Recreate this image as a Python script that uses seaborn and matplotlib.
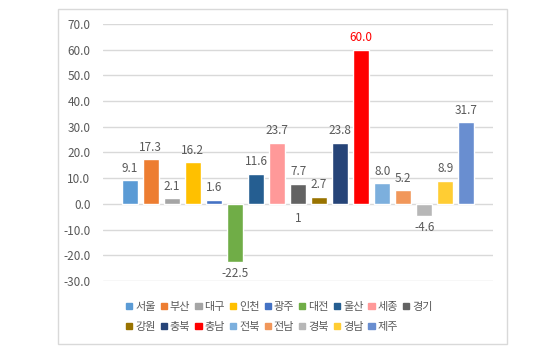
import matplotlib
matplotlib.use("Agg")
import matplotlib.pyplot as plt
import matplotlib.patches as mpatches
import seaborn as sns
import pandas as pd

regions = ["서울", "부산", "대구", "인천", "광주", "대전", "울산", "세종", "경기",
           "강원", "충북", "충남", "전북", "전남", "경북", "경남", "제주"]
values = [9.1, 17.3, 2.1, 16.2, 1.6, -22.5, 11.6, 23.7, 7.7,
          2.7, 23.8, 60.0, 8.0, 5.2, -4.6, 8.9, 31.7]
colors = ["#5B9BD5", "#ED7D31", "#A5A5A5", "#FFC000", "#4472C4", "#70AD47",
          "#255E91", "#FF9999", "#636363", "#997300", "#264478", "#FF0000",
          "#7CAFDD", "#F1975A", "#B7B7B7", "#FFCD33", "#698ED0"]
yticks = [-30, -20, -10, 0, 10, 20, 30, 40, 50, 60, 70]

df = pd.DataFrame({"region": regions, "value": values})

sns.set_style("white")
plt.rcParams["font.family"] = ["Noto Sans CJK KR", "DejaVu Sans"]

fig = plt.figure(figsize=(5.51, 3.52), dpi=100)
ax = fig.add_axes([0.187, 0.202, 0.708, 0.730])

sns.barplot(data=df, x="region", y="value", hue="region", palette=colors,
            width=0.76, legend=False, ax=ax, saturation=1)

# 데이터 레이블
for cont, v in zip(ax.containers, values):
    col = "#FF0000" if v == 60.0 else "#595959"
    ax.bar_label(cont, labels=["%.1f" % v], padding=4, fontsize=8.5, color=col)
ax.text(8, -5.8, "1", ha="center", va="center", fontsize=8.5, color="#595959")

ax.set_ylim(-30, 70)
ax.set_xlim(-1.27, 17.27)
ax.set_yticks(yticks)
ax.set_yticklabels(["%.1f" % t for t in yticks])
ax.set_xticks([])
ax.set_xlabel("")
ax.set_ylabel("")
ax.tick_params(axis="y", length=0, pad=9, labelsize=8.5, labelcolor="#595959")
ax.grid(axis="y", color="#D9D9D9", linewidth=1)
ax.set_axisbelow(True)
for s in ax.spines.values():
    s.set_visible(False)

# 범례 (두 줄)
handles = [mpatches.Patch(color=c, label=r) for r, c in zip(regions, colors)]
kw = dict(frameon=False, fontsize=8, handlelength=0.55, handleheight=0.55,
          handletextpad=0.27, columnspacing=0.45, borderaxespad=0, borderpad=0)
leg1 = fig.legend(handles=handles[:9], ncol=9, loc="center left",
                  bbox_to_anchor=(0.229, 0.128), **kw)
leg2 = fig.legend(handles=handles[9:], ncol=8, loc="center left",
                  bbox_to_anchor=(0.229, 0.071), **kw)
for leg in (leg1, leg2):
    for t in leg.get_texts():
        t.set_color("#595959")

# 차트 테두리
fig.patches.append(mpatches.Rectangle((0.105, 0.023), 0.815, 0.951,
                                      transform=fig.transFigure, fill=False,
                                      edgecolor="#D9D9D9", linewidth=1))

fig.savefig("out.png", dpi=100)
